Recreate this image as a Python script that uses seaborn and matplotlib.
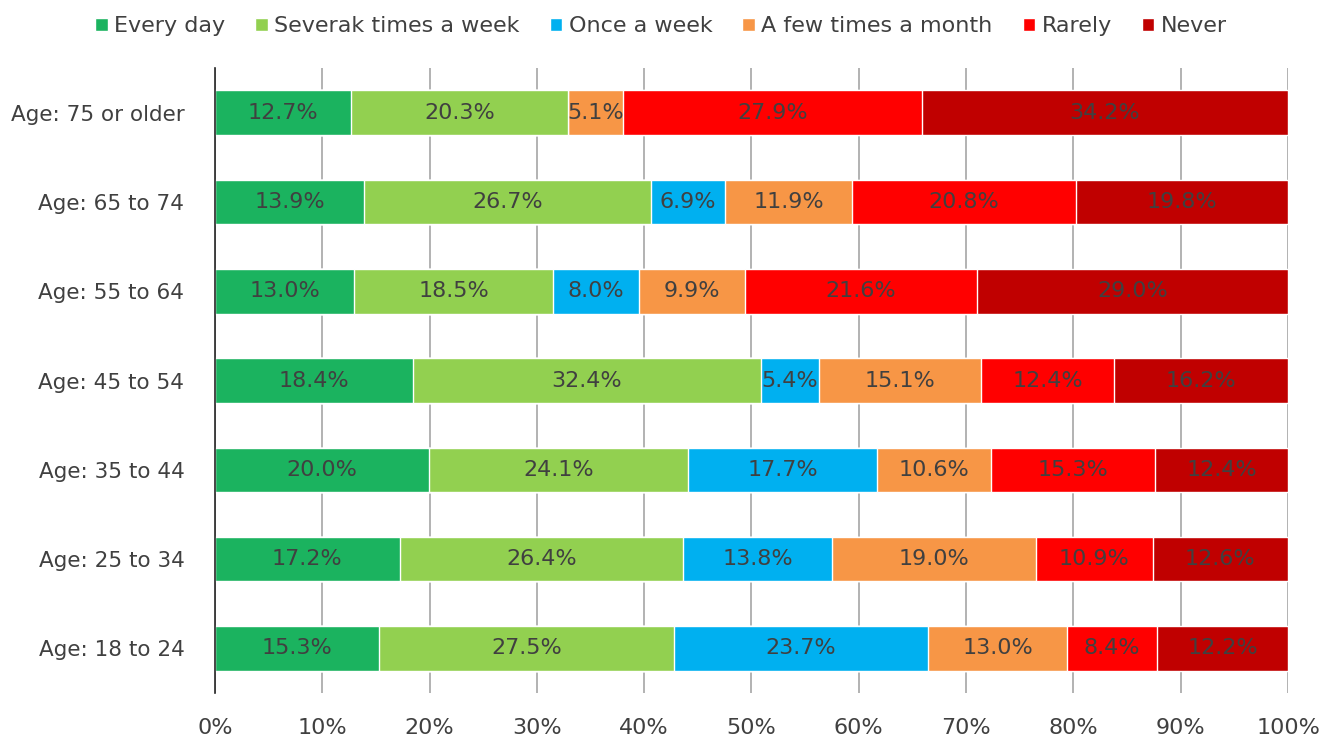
import matplotlib.pyplot as plt
import numpy as np
import pandas as pd
import seaborn as sns
from matplotlib.patches import Patch

ages = ["Age: 75 or older", "Age: 65 to 74", "Age: 55 to 64", "Age: 45 to 54",
        "Age: 35 to 44", "Age: 25 to 34", "Age: 18 to 24"]
categories = ["Every day", "Severak times a week", "Once a week",
              "A few times a month", "Rarely", "Never"]
colors = ["#1BB35F", "#92D050", "#00B0F0", "#F79646", "#FF0000", "#C00000"]

every_day = [12.7, 13.9, 13.0, 18.4, 20.0, 17.2, 15.3]
several_week = [20.3, 26.7, 18.5, 32.4, 24.1, 26.4, 27.5]
once_week = [0.0, 6.9, 8.0, 5.4, 17.7, 13.8, 23.7]
few_month = [5.1, 11.9, 9.9, 15.1, 10.6, 19.0, 13.0]
rarely = [27.9, 20.8, 21.6, 12.4, 15.3, 10.9, 8.4]
never = [34.2, 19.8, 29.0, 16.2, 12.4, 12.6, 12.2]

TEXT = "#404040"
FS = 16


def build_table() -> pd.DataFrame:
    df = pd.DataFrame({"age": ages})
    for cat, vals in zip(categories, [every_day, several_week, once_week,
                                      few_month, rarely, never]):
        df[cat] = vals
    return df


def main() -> None:
    df = build_table()
    values = df[categories].to_numpy()
    cum = np.cumsum(values, axis=1)
    scale = 100.0 / cum[:, -1:]
    cum = cum * scale
    values = values * scale

    sns.set_style("white")
    plt.rcParams["font.family"] = ["DejaVu Sans"]
    fig = plt.figure(figsize=(13.22, 7.4), dpi=100)
    ax = fig.add_axes([0.1626, 0.0635, 0.8117, 0.8445])

    # stacked bars: draw cumulative totals from the widest down
    for i in range(len(categories) - 1, -1, -1):
        plot_df = pd.DataFrame({"age": ages, "total": cum[:, i]})
        sns.barplot(data=plot_df, x="total", y="age", order=ages, color=colors[i],
                    saturation=1, width=0.5, ax=ax, zorder=2)

    for r in range(len(ages)):
        for i in range(len(categories)):
            v = df[categories[i]].iloc[r]
            if v <= 0:
                continue
            center = cum[r, i] - values[r, i] / 2
            ax.text(center, r, f"{v:.1f}%", ha="center", va="center",
                    fontsize=FS, color=TEXT, zorder=3)

    ax.set_xlim(0, 100)
    ax.set_ylim(len(ages) - 0.5, -0.5)
    ax.set_xticks(np.arange(0, 101, 10))
    ax.set_xticklabels([f"{t}%" for t in range(0, 101, 10)])
    ax.grid(axis="x", color="#A6A6A6", linewidth=1.2, zorder=0)
    ax.set_axisbelow(True)
    ax.set_xlabel("")
    ax.set_ylabel("")
    for side in ["top", "right", "bottom"]:
        ax.spines[side].set_visible(False)
    ax.spines["left"].set_color("#262626")
    ax.spines["left"].set_linewidth(1.2)
    ax.tick_params(axis="both", length=0, labelsize=FS, labelcolor=TEXT)
    ax.tick_params(axis="y", labelsize=15.5, pad=22)
    ax.tick_params(axis="x", pad=18)

    handles = [Patch(facecolor=c, label=l) for c, l in zip(colors, categories)]
    fig.legend(handles=handles, loc="upper center", bbox_to_anchor=(0.5, 1.005),
               ncol=6, frameon=False, fontsize=FS, handlelength=0.55,
               handleheight=0.55, handletextpad=0.3, columnspacing=1.35,
               labelcolor=TEXT)

    fig.savefig("out.png", dpi=100)
    plt.close(fig)


if __name__ == "__main__":
    main()
